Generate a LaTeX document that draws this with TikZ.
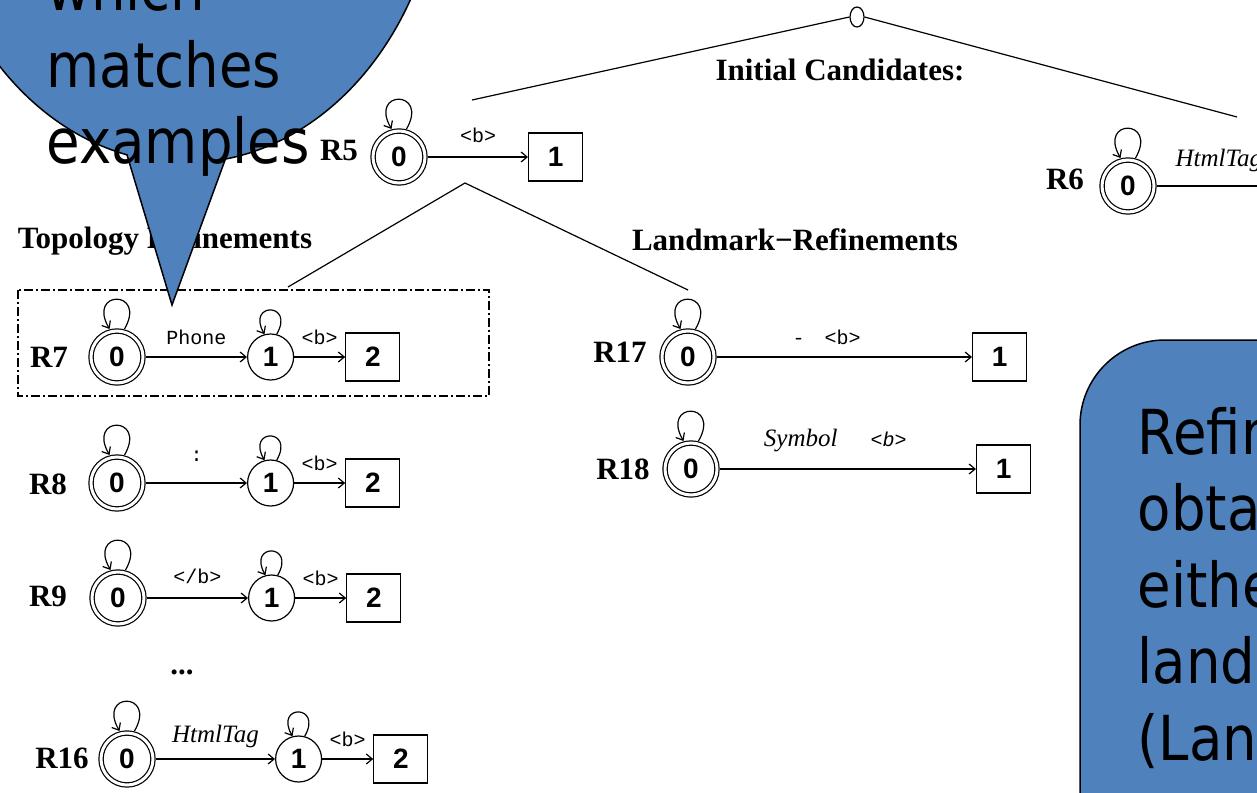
\documentclass[tikz,border=0pt]{standalone}
\usepackage{fontspec}
\usetikzlibrary{arrows.meta, positioning, shapes.geometric, shapes.callouts}

\setmainfont{Liberation Serif}
\newfontfamily\digitfont{Liberation Sans}
\newfontfamily\tagfont{Liberation Mono}
\newfontfamily\notefont{DejaVu Sans}[FakeStretch=0.88]
\definecolor{noteblue}{HTML}{4F81BD}

\begin{document}
\begin{tikzpicture}[
  x=1pt, y=-1pt, line width=1.2pt,
  >={Straight Barb[length=6pt,width=10pt]},
  firststate/.style={circle, draw, double, double distance=3pt, minimum size=52pt, inner sep=0pt, outer sep=3pt, font=\digitfont\bfseries\fontsize{28}{28}\selectfont},
  midstate/.style={circle, draw, minimum size=46pt, inner sep=0pt, font=\digitfont\bfseries\fontsize{28}{28}\selectfont},
  endbox/.style={draw, minimum width=54pt, minimum height=48pt, inner sep=0pt, font=\digitfont\bfseries\fontsize{28}{28}\selectfont},
  rname/.style={inner sep=0pt, font=\bfseries\fontsize{31}{31}\selectfont},
  taglbl/.style={inner sep=0pt, font=\tagfont\fontsize{20}{20}\selectfont},
  classlbl/.style={inner sep=0pt, font=\itshape\fontsize{25}{25}\selectfont},
  selfloop/.style={->, out=60, in=120, looseness=7.8},
  dashdot/.style={dash pattern=on 9pt off 3pt on 2pt off 3pt},
  bubble/.style={draw, line width=1.5pt, fill=noteblue},
  bubbletext/.style={inner sep=0pt, anchor=base west, font=\notefont\fontsize{62}{76}\selectfont}
]
\useasboundingbox (0,0) rectangle (1257,792);
\clip (0,0) rectangle (1257,792);

% candidate tree
\node[draw, ellipse, minimum width=14pt, minimum height=20pt, inner sep=0pt] (root) at (857,17) {};
\coordinate (rootL) at (472,100);
\coordinate (rootR) at (1237,117);
\draw (root.west) -- (rootL);
\draw (root.east) -- (rootR);
\node[rname] (cands) at (840,70) {Initial Candidates:};

% R5 and R6
\node[firststate] (r5a) at (399,157) {0};
\node[endbox, right=100pt of r5a] (r5b) {1};
\node[rname] (r5n) at (339,151) {R5};
\draw[->] (r5a) -- node[taglbl, above=14pt] {<b>} (r5b);

\node[firststate] (r6a) at (1128,186) {0};
\coordinate[right=150pt of r6a] (r6end);
\node[rname] (r6n) at (1065,179) {R6};
\node[classlbl, anchor=south west] (r6t) at (1175,172) {HtmlTag};
\draw (r6a) -- (r6end);

% split into the two kinds of refinement
\coordinate (split) at (465,183);
\coordinate (topoEnd) at (288,287);
\coordinate (landEnd) at (688,290);
\draw (topoEnd) -- (split) -- (landEnd);
\node[rname] (topo) at (165,241) {Topology Refinements};
\node[rname] (land) at (795,240) {Landmark−Refinements};

% topology refinements
\draw[dashdot] (18,290) rectangle (489,396);
\node[firststate] (r7a) at (117,357) {0};
\node[midstate, right=101pt of r7a] (r7b) {1};
\node[endbox, right=51pt of r7b] (r7c) {2};
\node[rname] (r7n) at (49,357) {R7};
\draw[->] (r7a) -- node[taglbl, above=12pt] {Phone} (r7b);
\draw[->] (r7b) -- node[taglbl, above=12pt] {<b>} (r7c);

\node[firststate] (r8a) at (117,483) {0};
\node[midstate, right=101pt of r8a] (r8b) {1};
\node[endbox, right=51pt of r8b] (r8c) {2};
\node[rname] (r8n) at (48,484) {R8};
\draw[->] (r8a) -- node[taglbl, above=21pt] {:} (r8b);
\draw[->] (r8b) -- node[taglbl, above=12pt] {<b>} (r8c);

\node[firststate] (r9a) at (118,598) {0};
\node[midstate, right=101pt of r9a] (r9b) {1};
\node[endbox, right=51pt of r9b] (r9c) {2};
\node[rname] (r9n) at (48,596) {R9};
\draw[->] (r9a) -- node[taglbl, above=14pt] {</b>} (r9b);
\draw[->] (r9b) -- node[taglbl, above=12pt] {<b>} (r9c);

\node[rname] (more) at (182,672) {...};

\node[firststate] (r16a) at (127,759) {0};
\node[midstate, right=119pt of r16a] (r16b) {1};
\node[endbox, right=51pt of r16b] (r16c) {2};
\node[rname] (r16n) at (62,758) {R16};
\draw[->] (r16a) -- node[classlbl, above=11pt] {HtmlTag} (r16b);
\draw[->] (r16b) -- node[taglbl, above=12pt] {<b>} (r16c);

% landmark refinements
\node[firststate] (r17a) at (688,357) {0};
\node[endbox, right=255pt of r17a] (r17b) {1};
\node[rname] (r17n) at (620,352) {R17};
\draw[->] (r17a) -- node[taglbl, above=12pt, pos=0.43] {-\hspace{20pt}<b>} (r17b);

\node[firststate] (r18a) at (691,469) {0};
\node[endbox, right=256pt of r18a] (r18b) {1};
\node[rname] (r18n) at (623,469) {R18};
\draw[->] (r18a) -- node[classlbl, above=17pt, pos=0.45] {Symbol\hspace{33pt}{\tagfont\fontsize{20}{20}\selectfont<b>}} (r18b);

% self loops on every state
\foreach \s in {r5a, r6a, r7a, r7b, r8a, r8b, r9a, r9b, r16a, r16b, r17a, r18a}
  \draw[selfloop] (\s.75) to (\s.105);

% callouts
\node[ellipse callout, bubble, minimum width=516pt, minimum height=636pt,
  callout absolute pointer={(172,305)}, callout pointer arc=22] (hint) at (185,-155) {};
\foreach \w [count=\i] in {which, matches, examples}
  \node[bubbletext] (hint\i) at (46, {11+76*(\i-1)}) {\w};

\draw[bubble, rounded corners=85pt] (1080,340) rectangle (1400,900);
\foreach \w [count=\i] in {Refin, obta, eithe, land, {(Lan}}
  \node[bubbletext] (why\i) at (1137, {454+76.5*(\i-1)}) {\w};
\end{tikzpicture}
\end{document}
